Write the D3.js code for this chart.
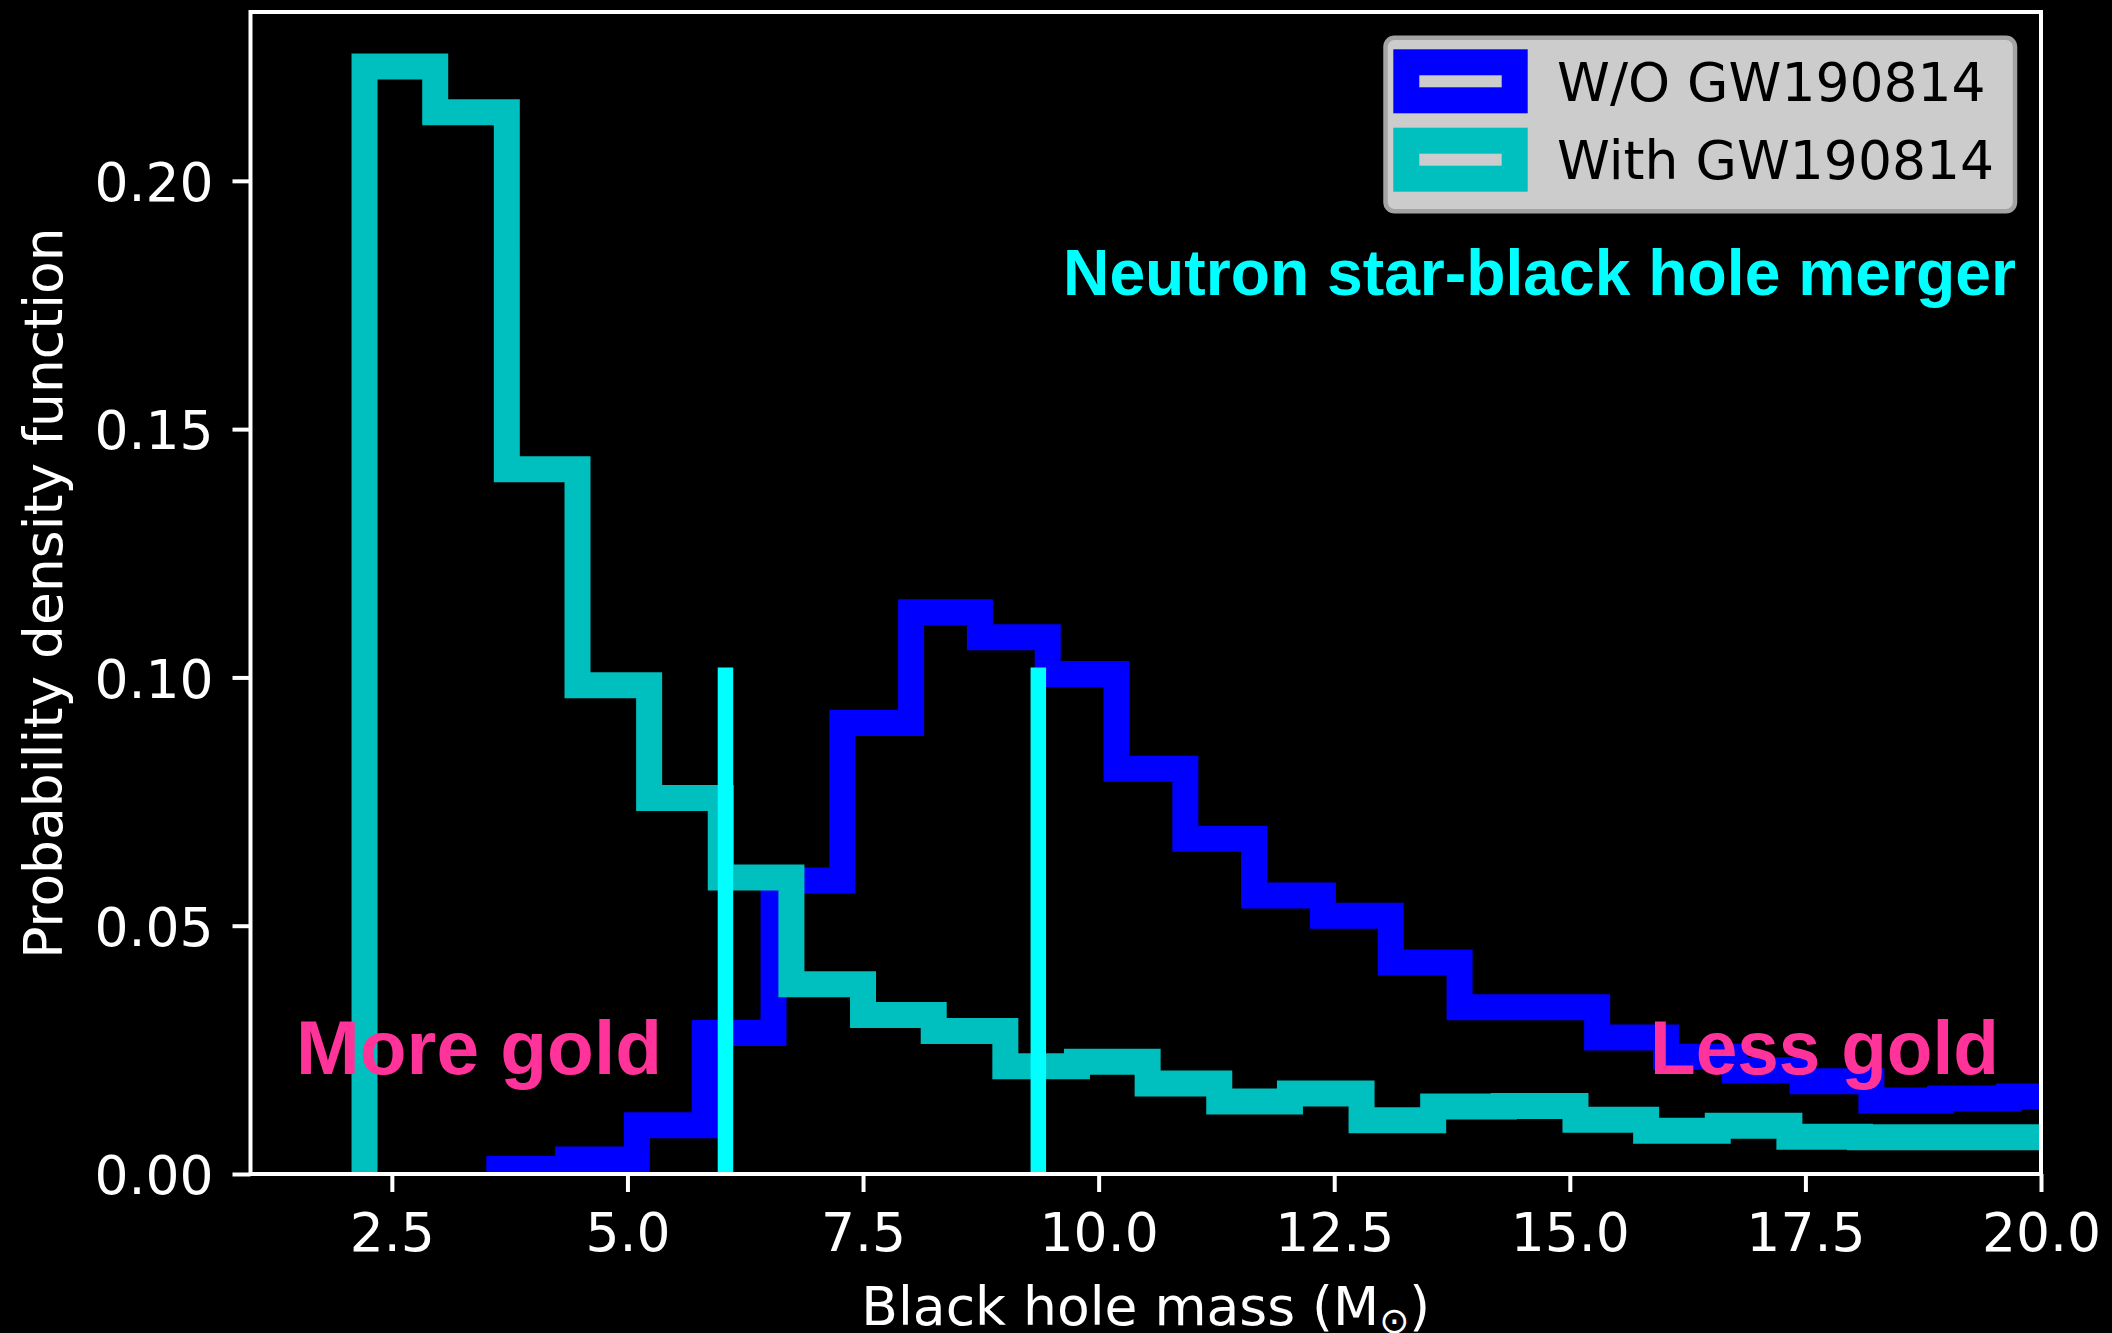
<!DOCTYPE html>
<html>
<head>
<meta charset="utf-8">
<script src="https://cdn.jsdelivr.net/npm/d3@7"></script>
<style>
  html, body { margin: 0; padding: 0; background: #000; }
  svg { display: block; }
</style>
</head>
<body>
<svg id="chart" width="2112" height="1333"></svg>
<script>
// Bin edges and densities of the two black hole mass distributions
const blueEdges = [3.64, 4.37, 5.10, 5.82, 6.55, 7.28, 8.01, 8.74, 9.46, 10.19, 10.92, 11.65,
  12.38, 13.10, 13.83, 14.56, 15.29, 16.02, 16.75, 17.47, 18.20, 18.93, 19.66, 20.39];
const blueValues = [0.0010, 0.0029, 0.0098, 0.0284, 0.0591, 0.0908, 0.1131, 0.1081, 0.1007,
  0.0816, 0.0675, 0.0561, 0.0520, 0.0426, 0.0336, 0.0336, 0.0275, 0.0236, 0.0209, 0.0187,
  0.0148, 0.0152, 0.0156];

const cyanEdges = [2.21, 2.96, 3.72, 4.47, 5.23, 5.99, 6.74, 7.50, 8.25, 9.01, 9.77, 10.52,
  11.28, 12.03, 12.79, 13.55, 14.30, 15.06, 15.81, 16.57, 17.33, 18.08, 18.84, 19.59, 20.35];
const cyanValues = [0.2230, 0.2138, 0.1419, 0.0984, 0.0757, 0.0597, 0.0382, 0.0320, 0.0288,
  0.0217, 0.0226, 0.0182, 0.0146, 0.0162, 0.0108, 0.0136, 0.0137, 0.0109, 0.0087, 0.0097,
  0.0075, 0.0074, 0.0074, 0.0074];

// Marker lines
const markerX = [6.04, 9.36];
const markerTop = 0.102;

const xTicks = [2.5, 5.0, 7.5, 10.0, 12.5, 15.0, 17.5, 20.0];
const yTicks = [0.00, 0.05, 0.10, 0.15, 0.20];

const seriesNames = ["W/O GW190814", "With GW190814"];
const seriesColors = ["#0000ff", "#00bfbf"];

const svg = d3.select("#chart");
const W = 2112, H = 1333;
const plot = { left: 250.5, right: 2041, top: 12, bottom: 1174 };

svg.append("rect").attr("width", W).attr("height", H).attr("fill", "#000");

const x = d3.scaleLinear().domain([1, 20]).range([plot.left, plot.right]);
const y = d3.scaleLinear().domain([0, 0.234]).range([plot.bottom, plot.top]);

svg.append("defs").append("clipPath").attr("id", "plotClip")
  .append("rect")
  .attr("x", plot.left).attr("y", plot.top)
  .attr("width", plot.right - plot.left).attr("height", plot.bottom - plot.top);

// Step outline of a histogram: starts and ends on the baseline
function stepPoints(edges, values) {
  const pts = [[edges[0], 0]];
  values.forEach((v, i) => {
    pts.push([edges[i], v]);
    pts.push([edges[i + 1], v]);
  });
  pts.push([edges[edges.length - 1], 0]);
  return pts;
}

const line = d3.line().x(d => x(d[0])).y(d => y(d[1]));
const plotG = svg.append("g").attr("clip-path", "url(#plotClip)");

const hists = [
  { edges: blueEdges, values: blueValues, color: seriesColors[0] },
  { edges: cyanEdges, values: cyanValues, color: seriesColors[1] }
];

plotG.selectAll("path.hist")
  .data(hists)
  .join("path")
  .attr("class", "hist")
  .attr("d", d => line(stepPoints(d.edges, d.values)))
  .attr("fill", "none")
  .attr("stroke", d => d.color)
  .attr("stroke-width", 26)
  .attr("stroke-linejoin", "miter")
  .attr("stroke-linecap", "butt");

plotG.selectAll("line.marker")
  .data(markerX)
  .join("line")
  .attr("class", "marker")
  .attr("x1", d => x(d)).attr("x2", d => x(d))
  .attr("y1", y(0)).attr("y2", y(markerTop))
  .attr("stroke", "#00ffff")
  .attr("stroke-width", 15.5);

// Axes
const tickFont = "'DejaVu Sans', sans-serif";
const labelSize = "53.5px";

const xAxis = svg.append("g")
  .attr("transform", `translate(0,${plot.bottom})`)
  .call(d3.axisBottom(x).tickValues(xTicks).tickFormat(d3.format(".1f"))
    .tickSize(18).tickPadding(21));
const yAxis = svg.append("g")
  .attr("transform", `translate(${plot.left},0)`)
  .call(d3.axisLeft(y).tickValues(yTicks).tickFormat(d3.format(".2f"))
    .tickSize(18).tickPadding(19));

[xAxis, yAxis].forEach(g => {
  g.select(".domain").remove();
  g.selectAll(".tick line").attr("stroke", "#fff").attr("stroke-width", 4);
  g.selectAll(".tick text")
    .attr("fill", "#fff")
    .style("font-family", tickFont)
    .style("font-size", labelSize);
});
yAxis.selectAll(".tick text").attr("dy", "0.37em");

// Frame
svg.append("rect")
  .attr("x", plot.left).attr("y", plot.top)
  .attr("width", plot.right - plot.left).attr("height", plot.bottom - plot.top)
  .attr("fill", "none").attr("stroke", "#fff").attr("stroke-width", 4);

// Axis titles
const xLabel = svg.append("text")
  .attr("x", (plot.left + plot.right) / 2)
  .attr("y", 1325)
  .attr("text-anchor", "middle")
  .attr("fill", "#fff")
  .style("font-family", tickFont)
  .style("font-size", labelSize);
xLabel.append("tspan").text("Black hole mass (M");
xLabel.append("tspan").text("\u2299").style("font-size", "36px").attr("dy", 8);
xLabel.append("tspan").text(")").attr("dy", -8);

svg.append("text")
  .attr("transform", `translate(62,${(plot.top + plot.bottom) / 2}) rotate(-90)`)
  .attr("text-anchor", "middle")
  .attr("fill", "#fff")
  .style("font-family", tickFont)
  .style("font-size", labelSize)
  .text("Probability density function");

// Legend
const legend = svg.append("g");
legend.append("rect")
  .attr("x", 1385.5).attr("y", 37.8)
  .attr("width", 629.5).attr("height", 173.5)
  .attr("rx", 9).attr("ry", 9)
  .attr("fill", "#cccccc")
  .attr("stroke", "#a3a3a3")
  .attr("stroke-width", 4.5);

const rows = legend.selectAll("g.row")
  .data(seriesNames.map((n, i) => ({ name: n, color: seriesColors[i], i })))
  .join("g")
  .attr("class", "row")
  .attr("transform", d => `translate(0,${d.i * 78.4})`);

rows.append("rect")
  .attr("x", 1406.3).attr("y", 62.3)
  .attr("width", 108.4).attr("height", 38)
  .attr("fill", "none")
  .attr("stroke", d => d.color)
  .attr("stroke-width", 26);

rows.append("text")
  .attr("x", 1557)
  .attr("y", 101)
  .attr("fill", "#000")
  .style("font-family", tickFont)
  .style("font-size", labelSize)
  .text(d => d.name);

// Annotations
const annoFont = "'Liberation Sans', Arial, Helvetica, sans-serif";
const annotations = [
  { text: "Neutron star-black hole merger", x: 1063, y: 294.5, len: 953, size: 64, color: "#00ffff" },
  { text: "More gold", x: 296, y: 1074, len: 366, size: 76, color: "#ff3399" },
  { text: "Less gold", x: 1650, y: 1074, len: 349, size: 76, color: "#ff3399" }
];
svg.selectAll("text.anno")
  .data(annotations)
  .join("text")
  .attr("class", "anno")
  .attr("x", d => d.x)
  .attr("y", d => d.y)
  .attr("fill", d => d.color)
  .attr("textLength", d => d.len)
  .attr("lengthAdjust", "spacingAndGlyphs")
  .style("font-family", annoFont)
  .style("font-weight", "bold")
  .style("font-size", d => d.size + "px")
  .text(d => d.text);
</script>
</body>
</html>
